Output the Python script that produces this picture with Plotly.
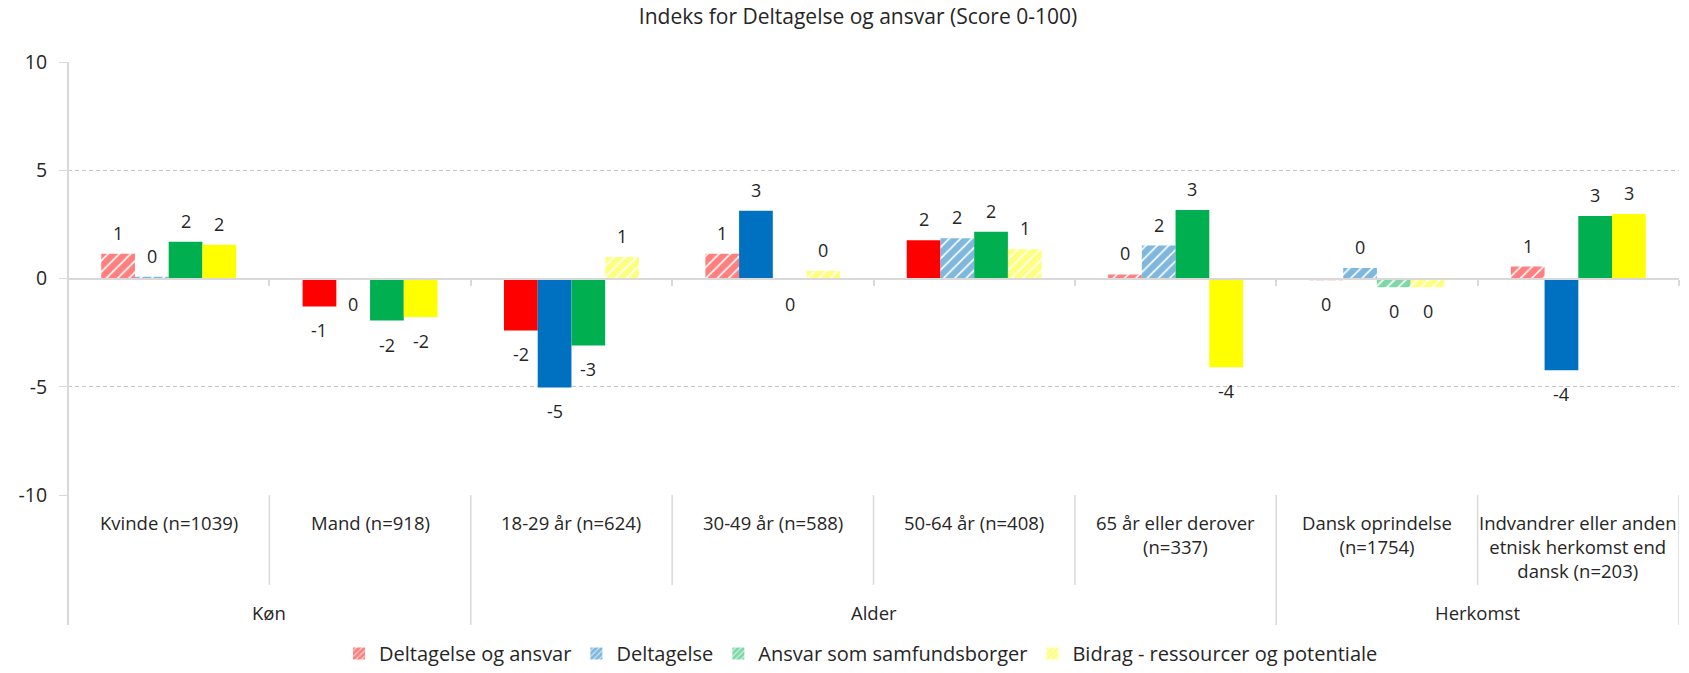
import plotly.graph_objects as go

# --- data -------------------------------------------------------------
categories = [
    "Kvinde (n=1039)",
    "Mand (n=918)",
    "18-29 år (n=624)",
    "30-49 år (n=588)",
    "50-64 år (n=408)",
    "65 år eller derover<br>(n=337)",
    "Dansk oprindelse<br>(n=1754)",
    "Indvandrer eller anden<br>etnisk herkomst end<br>dansk (n=203)",
]
groups = ["Køn", "Alder", "Herkomst"]
group_sizes = [2, 4, 2]

series_names = [
    "Deltagelse og ansvar",
    "Deltagelse",
    "Ansvar som samfundsborger",
    "Bidrag - ressourcer og potentiale",
]
deltagelse_og_ansvar = [1.14, -1.29, -2.40, 1.14, 1.77, 0.19, -0.08, 0.55]
deltagelse = [0.08, -0.06, -5.03, 3.13, 1.86, 1.52, 0.48, -4.24]
ansvar = [1.70, -1.94, -3.09, -0.05, 2.16, 3.16, -0.40, 2.89]
bidrag = [1.56, -1.78, 0.99, 0.36, 1.35, -4.10, -0.40, 2.98]

# True = difference not significant (drawn hatched)
hatch_deltagelse_og_ansvar = [True, False, False, True, False, True, True, True]
hatch_deltagelse = [True, True, False, False, True, True, True, False]
hatch_ansvar = [False, False, False, True, False, False, True, False]
hatch_bidrag = [False, False, True, True, True, False, True, False]

y_tickvals = [-10, -5, 0, 5, 10]
y_ticktext = ["-10", "-5", "0", "5", "10"]

colors = ["#FF0000", "#0070C0", "#00B050", "#FFFF00"]

series_values = [deltagelse_og_ansvar, deltagelse, ansvar, bidrag]
series_hatch = [hatch_deltagelse_og_ansvar, hatch_deltagelse, hatch_ansvar, hatch_bidrag]

# --- style ------------------------------------------------------------
FONT = "Open Sans"
TXT = "#262626"
AXIS = "#d9d9d9"
GRID = "#c6c6c6"
BARGAP = 0.33
W, H = 1689, 673
M_L, M_R, M_T, M_B = 68, 10, 62, 178
PLOT_H = H - M_T - M_B


def px_to_paper(py):
    """Vertical pixel position (from top) to paper coordinate."""
    return (H - M_B - py) / PLOT_H


fig = go.Figure()

for k, (name, vals, hatch, col) in enumerate(
    zip(series_names, series_values, series_hatch, colors)
):
    fig.add_trace(
        go.Bar(
            x=categories,
            y=vals,
            name=name,
            offsetgroup=str(k),
            legendgroup=name,
            showlegend=False,
            marker=dict(
                color=col,
                line=dict(width=0),
                pattern=dict(
                    shape=["/" if h else "" for h in hatch],
                    fgcolor=col,
                    bgcolor="white",
                    size=8,
                    solidity=0.8,
                ),
            ),
            hovertemplate="%{y:.2f}<extra>" + name + "</extra>",
        )
    )
    # legend entry with the hatched swatch
    fig.add_trace(
        go.Bar(
            x=[categories[0]],
            y=[None],
            name=name,
            offsetgroup=str(k),
            legendgroup=name,
            showlegend=True,
            marker=dict(
                color=col,
                line=dict(width=0),
                pattern=dict(shape="/", fgcolor=col, bgcolor="white",
                             size=5, solidity=0.8),
            ),
            hoverinfo="skip",
        )
    )

annotations = []

# value labels at the outer end of each bar
n_series = len(series_names)
bar_w = (1 - BARGAP) / n_series
for k, vals in enumerate(series_values):
    for i, v in enumerate(vals):
        xpos = i - (1 - BARGAP) / 2 + (k + 0.5) * bar_w
        annotations.append(
            dict(
                x=xpos, y=v, xref="x", yref="y",
                text=str(int(round(v))),
                showarrow=False,
                yshift=21 if v >= 0 else -24,
                yanchor="middle",
                font=dict(family=FONT, size=18, color=TXT),
            )
        )

# category labels
for i, c in enumerate(categories):
    annotations.append(
        dict(
            x=i, y=px_to_paper(508), xref="x", yref="paper",
            text=c, showarrow=False, yanchor="top", xanchor="center",
            align="center",
            font=dict(family=FONT, size=18.5, color=TXT),
        )
    )

# group labels
start = 0
shapes = []
for g, n in zip(groups, group_sizes):
    annotations.append(
        dict(
            x=start + n / 2 - 0.5, y=px_to_paper(612), xref="x", yref="paper",
            text=g, showarrow=False, yanchor="middle", xanchor="center",
            font=dict(family=FONT, size=18.5, color=TXT),
        )
    )
    start += n

# dividers below the plot
group_edges = set()
acc = 0
for n in group_sizes:
    acc += n
    group_edges.add(acc)
for b in range(1, len(categories) + 1):
    bottom = 625 if b in group_edges else 585
    shapes.append(
        dict(
            type="line", xref="x", yref="paper",
            x0=b - 0.5, x1=b - 0.5, y0=0, y1=px_to_paper(bottom),
            line=dict(color=AXIS, width=1.5),
        )
    )
# left axis line running through the label area
shapes.append(
    dict(
        type="line", xref="paper", yref="paper",
        x0=0, x1=0, y0=1, y1=px_to_paper(625),
        line=dict(color=AXIS, width=2),
    )
)

fig.update_layout(
    width=W,
    height=H,
    margin=dict(l=M_L, r=M_R, t=M_T, b=M_B, pad=0, autoexpand=False),
    paper_bgcolor="white",
    plot_bgcolor="white",
    barmode="group",
    bargap=BARGAP,
    bargroupgap=0,
    font=dict(family=FONT, size=18, color=TXT),
    title=dict(
        text="Indeks for Deltagelse og ansvar (Score 0-100)",
        x=858 / W, xref="container", xanchor="center",
        y=1 - 17 / H, yref="container", yanchor="middle",
        font=dict(family=FONT, size=21, color=TXT),
    ),
    xaxis=dict(
        type="category",
        range=[-0.5, len(categories) - 0.5],
        anchor="free",
        position=0.5,
        showline=True,
        linecolor=AXIS,
        linewidth=2,
        ticks="outside",
        tickson="boundaries",
        ticklen=6,
        tickcolor=AXIS,
        tickwidth=1.5,
        showticklabels=False,
        showgrid=False,
        zeroline=False,
        fixedrange=True,
    ),
    yaxis=dict(
        range=[-10, 10],
        tickmode="array",
        tickvals=y_tickvals,
        ticktext=y_ticktext,
        showgrid=True,
        gridcolor=GRID,
        griddash="4px,3px",
        gridwidth=1,
        zeroline=False,
        showline=False,
        ticks="outside",
        ticklen=8,
        tickcolor=AXIS,
        ticklabelstandoff=8,
        tickfont=dict(family=FONT, size=19.5, color=TXT),
        fixedrange=True,
    ),
    legend=dict(
        orientation="h",
        x=861 / W,
        xref="container",
        xanchor="center",
        y=0,
        yref="container",
        yanchor="bottom",
        itemwidth=30,
        font=dict(family=FONT, size=20, color=TXT),
        traceorder="normal",
    ),
    annotations=annotations,
    shapes=shapes,
    showlegend=True,
)

fig.write_html("out.html")
